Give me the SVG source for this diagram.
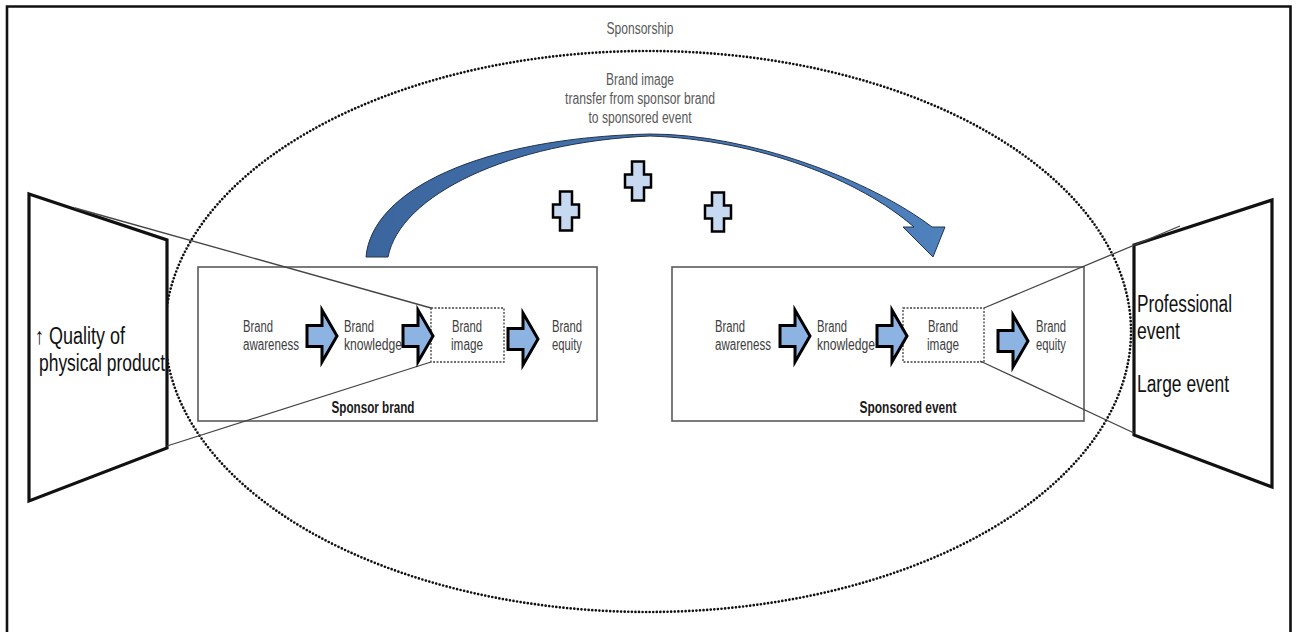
<svg xmlns="http://www.w3.org/2000/svg" width="1296" height="632" viewBox="0 0 1296 632">
  <style>
    text { font-family: "Liberation Sans", Arial, sans-serif; }
    .lbl { fill: #404040; font-size: 16px; }
    .top { fill: #595959; font-size: 16px; text-anchor: middle; }
    .cap { fill: #1a1a1a; font-size: 16px; font-weight: bold; text-anchor: middle; }
    .big { fill: #111; font-size: 23px; }
    .mid { text-anchor: middle; }
    .box { fill: #fff; stroke: #5a5a5a; stroke-width: 1.6; }
    .dash { fill: #fff; stroke: #404040; stroke-width: 1.3; stroke-dasharray: 2 1.5; }
    .trap { fill: #fff; stroke: #111; stroke-width: 3.2; stroke-linejoin: miter; }
    .ray { fill: none; stroke: #444; stroke-width: 1.3; }
    .step { fill: #8db3e2; stroke: #000; stroke-width: 3; stroke-linejoin: miter; }
    .plus { fill: #c6d9f1; stroke: #000; stroke-width: 2.5; }
  </style>
  <defs>
    <!-- block arrow between stages, origin at the left end of the shaft -->
    <path id="stepArrow" d="M0,-10.5 H15 V-26 L30,0 L15,26 V10.5 H0 Z"/>
    <!-- plus sign, origin at its centre -->
    <path id="plusSign" d="M-6,-19.5 H6 V-6.5 H13 V6.5 H6 V19.5 H-6 V6.5 H-13 V-6.5 H-6 Z"/>
    <linearGradient id="transferFill" x1="0" y1="0" x2="1" y2="0">
      <stop offset="0" stop-color="#3b659d"/>
      <stop offset="1" stop-color="#4f81bd"/>
    </linearGradient>
  </defs>

  <rect x="0" y="0" width="1296" height="632" fill="#fff"/>

  <!-- outer frame -->
  <g id="frame">
    <path d="M7,640 V6.5 H1290.5 V640" fill="none" stroke="#111" stroke-width="2.6"/>
  </g>

  <!-- sponsorship scope -->
  <g id="sponsorship">
    <ellipse cx="648" cy="331.5" rx="483" ry="280.5" fill="none" stroke="#111" stroke-width="2.7" stroke-linecap="round" stroke-dasharray="0 3.6"/>
    <text class="top" x="640" y="34" textLength="67" lengthAdjust="spacingAndGlyphs">Sponsorship</text>
  </g>

  <!-- image transfer arrow -->
  <g id="transfer">
    <path d="M366,257 C372,190 480,138 650,134 C750,134 870,180 932,227 L945,227 L933,257 L903,227 L914,227 C860,180 760,140 650,136 C510,142 400,195 388,257 Z" fill="url(#transferFill)" stroke="#22344f" stroke-width="1"/>
    <text class="top" x="640" y="85" textLength="68" lengthAdjust="spacingAndGlyphs">Brand image</text>
    <text class="top" x="640" y="104" textLength="150" lengthAdjust="spacingAndGlyphs">transfer from sponsor brand</text>
    <text class="top" x="640" y="123" textLength="103" lengthAdjust="spacingAndGlyphs">to sponsored event</text>
  </g>

  <g id="plus-signs">
    <use href="#plusSign" class="plus" x="566" y="211"/>
    <use href="#plusSign" class="plus" x="638" y="181"/>
    <use href="#plusSign" class="plus" x="718" y="212"/>
  </g>

  <!-- left: product quality -->
  <g id="product-quality">
    <polygon class="trap" points="29,194 167,240 167,448 29,501"/>
    <text class="big" x="35" y="344" textLength="90" lengthAdjust="spacingAndGlyphs">↑ Quality of</text>
    <text class="big" x="39" y="371" textLength="126" lengthAdjust="spacingAndGlyphs">physical product</text>
  </g>

  <!-- right: event type -->
  <g id="event-type">
    <polygon class="trap" points="1134,245 1272,200 1272,487 1134,435"/>
    <text class="big" x="1137" y="312" textLength="95" lengthAdjust="spacingAndGlyphs">Professional</text>
    <text class="big" x="1137" y="339" textLength="43" lengthAdjust="spacingAndGlyphs">event</text>
    <text class="big" x="1137" y="392" textLength="92" lengthAdjust="spacingAndGlyphs">Large event</text>
  </g>

  <!-- sponsor brand chain -->
  <g id="sponsor-brand">
    <rect class="box" x="198" y="267" width="399" height="154"/>
    <text class="cap" x="373" y="413" textLength="83" lengthAdjust="spacingAndGlyphs">Sponsor brand</text>
  </g>
  <g id="sb-awareness">
    <text class="lbl" x="243" y="332" textLength="30" lengthAdjust="spacingAndGlyphs">Brand</text>
    <text class="lbl" x="243" y="350" textLength="56" lengthAdjust="spacingAndGlyphs">awareness</text>
  </g>
  <g id="sb-knowledge">
    <text class="lbl" x="344" y="332" textLength="30" lengthAdjust="spacingAndGlyphs">Brand</text>
    <text class="lbl" x="344" y="350" textLength="58" lengthAdjust="spacingAndGlyphs">knowledge</text>
  </g>
  <g id="sb-image">
    <rect class="dash" x="431" y="308" width="73" height="54"/>
    <text class="lbl mid" x="467" y="332" textLength="30" lengthAdjust="spacingAndGlyphs">Brand</text>
    <text class="lbl mid" x="467" y="350" textLength="32" lengthAdjust="spacingAndGlyphs">image</text>
  </g>
  <g id="sb-equity">
    <text class="lbl" x="552" y="332" textLength="30" lengthAdjust="spacingAndGlyphs">Brand</text>
    <text class="lbl" x="552" y="350" textLength="30" lengthAdjust="spacingAndGlyphs">equity</text>
  </g>

  <!-- sponsored event chain -->
  <g id="sponsored-event">
    <rect class="box" x="672" y="267" width="412" height="154"/>
    <text class="cap" x="908" y="413" textLength="97" lengthAdjust="spacingAndGlyphs">Sponsored event</text>
  </g>
  <g id="se-awareness">
    <text class="lbl" x="715" y="332" textLength="30" lengthAdjust="spacingAndGlyphs">Brand</text>
    <text class="lbl" x="715" y="350" textLength="56" lengthAdjust="spacingAndGlyphs">awareness</text>
  </g>
  <g id="se-knowledge">
    <text class="lbl" x="817" y="332" textLength="30" lengthAdjust="spacingAndGlyphs">Brand</text>
    <text class="lbl" x="817" y="350" textLength="58" lengthAdjust="spacingAndGlyphs">knowledge</text>
  </g>
  <g id="se-image">
    <rect class="dash" x="903" y="308" width="81" height="54"/>
    <text class="lbl mid" x="943" y="332" textLength="30" lengthAdjust="spacingAndGlyphs">Brand</text>
    <text class="lbl mid" x="943" y="350" textLength="32" lengthAdjust="spacingAndGlyphs">image</text>
  </g>
  <g id="se-equity">
    <text class="lbl" x="1036" y="332" textLength="30" lengthAdjust="spacingAndGlyphs">Brand</text>
    <text class="lbl" x="1036" y="350" textLength="30" lengthAdjust="spacingAndGlyphs">equity</text>
  </g>

  <!-- connectors -->
  <g id="connectors">
    <line class="ray" x1="431" y1="308" x2="75" y2="208"/>
    <line class="ray" x1="431" y1="362" x2="167" y2="446"/>
    <line class="ray" x1="984" y1="308" x2="1180" y2="226"/>
    <line class="ray" x1="980" y1="361" x2="1134" y2="433"/>
    <use href="#stepArrow" class="step" x="307" y="336"/>
    <use href="#stepArrow" class="step" x="403" y="336"/>
    <use href="#stepArrow" class="step" x="508" y="339"/>
    <use href="#stepArrow" class="step" x="780" y="336"/>
    <use href="#stepArrow" class="step" x="877" y="336"/>
    <use href="#stepArrow" class="step" x="998" y="341"/>
  </g>
</svg>
